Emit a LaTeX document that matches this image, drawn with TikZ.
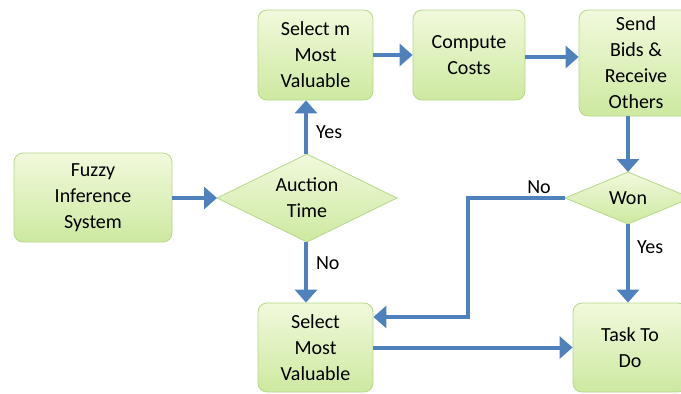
\documentclass[tikz,border=0pt]{standalone}
\usepackage{fontspec}
\setmainfont{Carlito}
\usetikzlibrary{shapes.geometric,arrows.meta}
\definecolor{boxtop}{HTML}{F1F9DC}
\definecolor{boxbot}{HTML}{CDE9A0}
\definecolor{boxline}{HTML}{B5D88A}
\definecolor{arr}{HTML}{4F81BD}
\tikzset{
  box/.style={draw=boxline, line width=0.8pt, rounded corners=9pt, top color=boxtop, bottom color=boxbot,
    align=center, font=\fontsize{20}{26}\selectfont, inner sep=0pt},
  flow/.style={draw=arr, line width=4pt, -{Triangle[length=13pt,width=22pt]}},
  lbl/.style={font=\fontsize{20}{26}\selectfont, inner sep=0pt}
}
\begin{document}
\begin{tikzpicture}[x=1pt,y=-1pt]
\useasboundingbox (0,0) rectangle (681,394);
\clip (0,0) rectangle (681,394);
\node[box, minimum width=158pt, minimum height=89pt] (fis) at (93,197.5) {Fuzzy\\Inference\\System};
\node[box, minimum width=115pt, minimum height=90pt] (selm) at (315.5,55) {Select m\\Most\\Valuable};
\node[box, minimum width=112pt, minimum height=90pt] (cost) at (469,55) {Compute\\Costs};
\node[box, minimum width=114pt, minimum height=106pt] (send) at (636,63) {Send\\Bids \&\\Receive\\Others};
\node[box, minimum width=115pt, minimum height=89pt] (sel) at (315.5,347.5) {Select\\Most\\Valuable};
\node[box, minimum width=114pt, minimum height=89pt] (task) at (630,347.5) {Task To\\Do};
\path[draw=boxline, line width=0.8pt, top color=boxtop, bottom color=boxbot]
  (217,198) -- (307,154) -- (397,198) -- (307,242) -- cycle;
\node[lbl, align=center] (auc) at (307,198) {Auction\\Time};
\coordinate (aucL) at (217,198);
\coordinate (aucT) at (306,154);
\coordinate (aucB) at (306,242);
\path[draw=boxline, line width=0.8pt, top color=boxtop, bottom color=boxbot]
  (565,198) -- (628,172) -- (691,198) -- (628,224) -- cycle;
\node[lbl] (won) at (628,198) {Won};
\coordinate (wonL) at (565,198);
\coordinate (wonT) at (628,172);
\coordinate (wonB) at (628,224);
\draw[flow] (fis.east |- aucL) -- (aucL);
\draw[flow] (aucT) -- (aucT |- selm.south) node[lbl, pos=0.4, right=8pt] {Yes};
\draw[flow] (aucB) -- (aucB |- sel.north) node[lbl, pos=0.35, right=8pt] {No};
\draw[flow] (selm.east) -- (cost.west);
\draw[flow] (cost.east |- 0,57) -- (send.west |- 0,57);
\draw[flow] (send.south -| wonT) -- (wonT);
\draw[flow] (wonB) -- (wonB |- task.north) node[lbl, pos=0.3, right=7pt] {Yes};
\coordinate (bend1) at (468,198);
\coordinate (bend2) at (468,317);
\draw[flow] (wonL) -- (bend1) -- (bend2) -- (sel.east |- bend2);
\node[lbl] (nolbl) at (539,187) {No};
\draw[flow] (sel.east) -- (task.west);
\end{tikzpicture}
\end{document}
